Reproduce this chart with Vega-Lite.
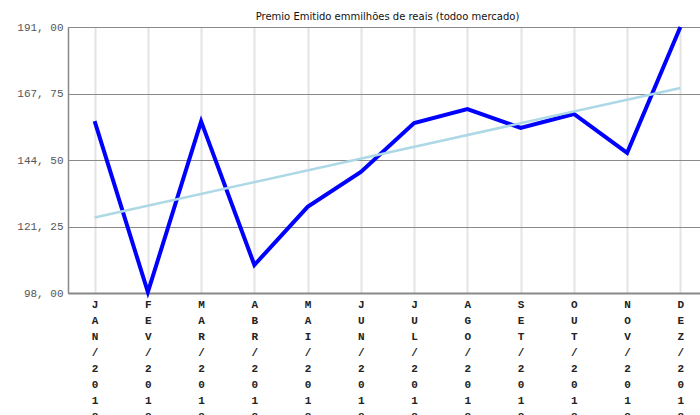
{
  "$schema": "https://vega.github.io/schema/vega-lite/v6.json",
  "autosize": "none",
  "padding": {"left": 68, "top": 27, "right": 5, "bottom": 130},
  "width": 639,
  "height": 266,
  "background": "#ffffff",
  "title": {
    "text": "Premio Emitido emmilhões de reais (todoo mercado)",
    "fontSize": 10,
    "font": "DejaVu Sans",
    "fontWeight": "normal",
    "color": "#111111",
    "anchor": "middle",
    "offset": -3
  },
  "config": {
    "view": {"stroke": "#888888", "strokeWidth": 1}
  },
  "data": {
    "values": [
      {"idx": 0, "mes": "JAN/2018", "premio": 158.1},
      {"idx": 1, "mes": "FEV/2018", "premio": 98.3},
      {"idx": 2, "mes": "MAR/2018", "premio": 158.0},
      {"idx": 3, "mes": "ABR/2018", "premio": 107.8},
      {"idx": 4, "mes": "MAI/2018", "premio": 128.1},
      {"idx": 5, "mes": "JUN/2018", "premio": 140.3},
      {"idx": 6, "mes": "JUL/2018", "premio": 157.4},
      {"idx": 7, "mes": "AGO/2018", "premio": 162.3},
      {"idx": 8, "mes": "SET/2018", "premio": 155.7},
      {"idx": 9, "mes": "OUT/2018", "premio": 160.6},
      {"idx": 10, "mes": "NOV/2018", "premio": 147.0},
      {"idx": 11, "mes": "DEZ/2018", "premio": 191.0}
    ]
  },
  "encoding": {
    "x": {
      "field": "idx",
      "type": "quantitative",
      "scale": {"domain": [-0.5, 11.5], "nice": false, "zero": false},
      "axis": {
        "title": null,
        "values": [0, 1, 2, 3, 4, 5, 6, 7, 8, 9, 10, 11],
        "grid": true,
        "gridColor": "#e4e4e4",
        "gridWidth": 2,
        "ticks": false,
        "domainColor": "#888888",
        "domainWidth": 2,
        "labelFont": "Liberation Mono",
        "labelFontSize": 11,
        "labelFontWeight": "bold",
        "labelColor": "#222222",
        "labelLineHeight": 16,
        "labelBaseline": "top",
        "labelPadding": 5,
        "labelFlush": false,
        "labelOverlap": false,
        "labelExpr": "split(['JAN/2018','FEV/2018','MAR/2018','ABR/2018','MAI/2018','JUN/2018','JUL/2018','AGO/2018','SET/2018','OUT/2018','NOV/2018','DEZ/2018'][datum.value], '')"
      }
    },
    "y": {
      "field": "premio",
      "type": "quantitative",
      "scale": {"domain": [98, 191], "nice": false, "zero": false},
      "axis": {
        "title": null,
        "values": [98, 121.25, 144.5, 167.75, 191],
        "grid": true,
        "gridColor": "#8a8a8a",
        "gridWidth": 1,
        "ticks": false,
        "domainColor": "#888888",
        "domainWidth": 1.5,
        "labelFont": "Liberation Mono",
        "labelFontSize": 11,
        "labelColor": "#555555",
        "labelPadding": 5,
        "labelFlush": false,
        "labelOverlap": false,
        "labelExpr": "replace(format(datum.value, '.2f'), '.', ', ')"
      }
    }
  },
  "layer": [
    {
      "mark": {"type": "line", "color": "#0000ff", "strokeWidth": 4, "clip": false}
    },
    {
      "transform": [{"regression": "premio", "on": "idx", "extent": [0, 11]}],
      "mark": {"type": "line", "color": "#add8e6", "strokeWidth": 2.5}
    }
  ]
}
